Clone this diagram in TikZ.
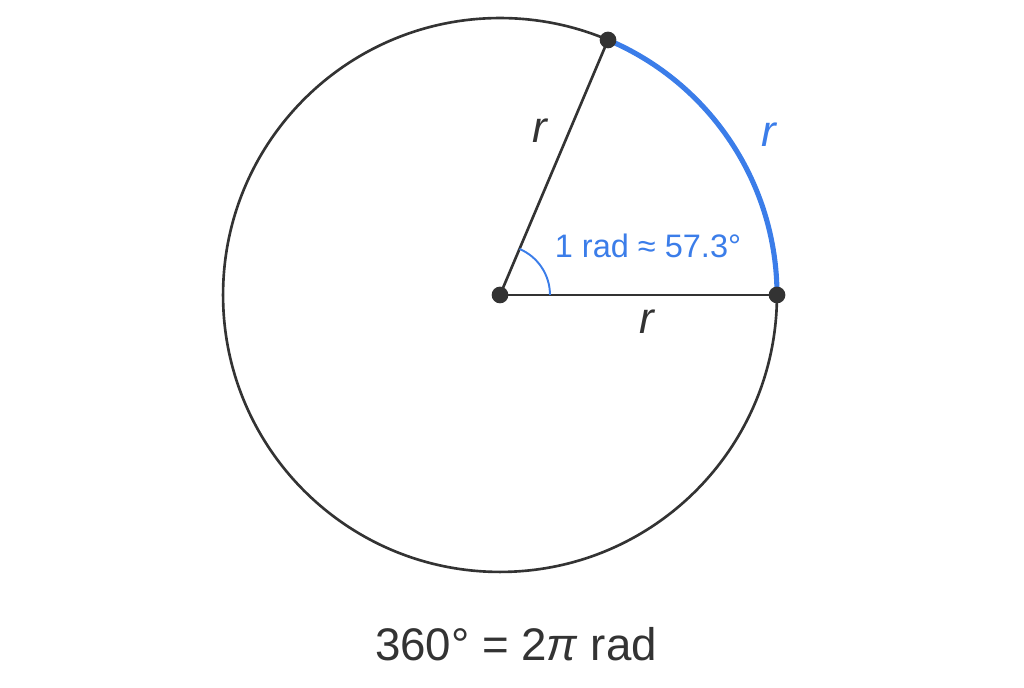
\documentclass[tikz,border=0pt]{standalone}
\usepackage{fontspec}
\setmainfont{Liberation Sans}
\definecolor{ink}{HTML}{333333}
\definecolor{arcblue}{HTML}{3B7DE9}
\tikzset{
  dot/.style={circle,fill=ink,inner sep=0pt,minimum size=9.5pt},
  rlabel/.style={font=\fontsize{25}{30}\selectfont\itshape},
}

\begin{document}
\begin{tikzpicture}[x=0.02cm,y=0.02cm]
\useasboundingbox (0,0) rectangle (1024,688);
\coordinate (O) at (500,393);
\coordinate (A) at (777,393);
\coordinate (B) at (608,648);

\draw[ink,line width=1.5pt] (O) circle (5.54cm);
\draw[arcblue,line width=2.9pt] (A) arc[start angle=0,end angle=67,radius=5.54cm];
\draw[ink,line width=1.5pt] (O) -- (A);
\draw[ink,line width=1.5pt] (O) -- (B);
\draw[arcblue,line width=1.1pt] ([xshift=1cm]O) arc[start angle=0,end angle=67,radius=1cm];

\node[dot] (dotO) at (O) {};
\node[dot] (dotA) at (A) {};
\node[dot] (dotB) at (B) {};

\node[rlabel,text=ink] (rOB) at (540,557) {r};
\node[rlabel,text=ink] (rOA) at (647,366) {r};
\node[rlabel,text=arcblue] (rAB) at (769,553) {r};
\node[text=arcblue,font=\fontsize{18.5}{22}\selectfont] (rad) at (648,442) {1 rad ≈ 57.3°};
\node[text=ink,font=\fontsize{26}{30}\selectfont] (full) at (516,44) {360° = 2\textit{π} rad};
\end{tikzpicture}
\end{document}
